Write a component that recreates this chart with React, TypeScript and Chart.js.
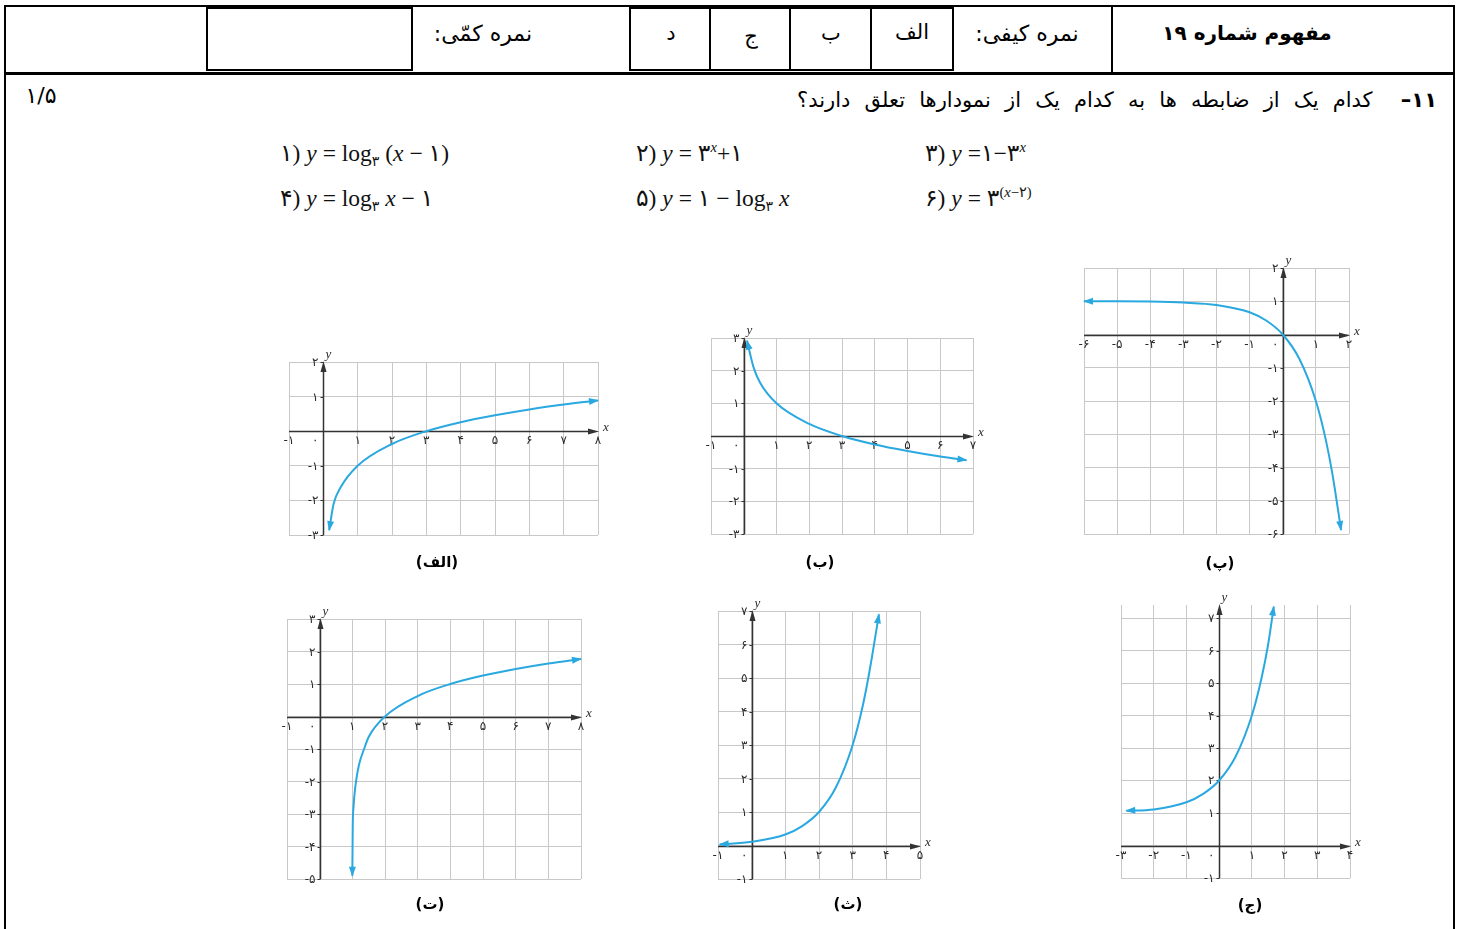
import React, { useEffect, useRef } from 'react';
import { Chart, registerables } from 'chart.js';

Chart.register(...registerables);

// ---------------- data ----------------
// graph (الف)
const alefX = [0.17, 0.3, 0.5, 1, 2, 3, 4, 5, 6, 7, 8];
const alefY = [-2.86, -2.1, -1.63, -1, -0.37, 0, 0.26, 0.46, 0.63, 0.77, 0.89];
// graph (ب)
const beX = [0.1, 0.3, 0.5, 1, 2, 3, 4, 5, 6, 6.8];
const beY = [2.92, 2.1, 1.63, 1, 0.37, 0, -0.26, -0.46, -0.63, -0.74];
// graph (پ)
const peX = [-6, -5, -4, -3, -2, -1, -0.5, 0, 0.5, 1, 1.3, 1.5, 1.76];
const peY = [1, 1, 0.99, 0.96, 0.89, 0.67, 0.42, 0, -0.73, -2, -3.17, -4.2, -5.88];
// graph (ت)
const teX = [1.0, 1.012, 1.035, 1.1, 1.2, 1.36, 1.5, 2, 3, 4, 5, 6, 7, 8];
const teY = [-4.9, -3.4, -2.8, -2.1, -1.5, -1, -0.63, 0, 0.63, 1, 1.26, 1.46, 1.63, 1.77];
// graph (ث)
const seX = [-0.95, 0, 1, 1.5, 2, 2.5, 3, 3.3, 3.5, 3.78];
const seY = [0.03, 0.11, 0.33, 0.58, 1, 1.73, 3, 4.17, 5.2, 6.9];
// graph (ج)
const jimX = [-2.84, -2, -1, -0.5, 0, 0.5, 1, 1.3, 1.5, 1.67];
const jimY = [1.07, 1.11, 1.33, 1.58, 2, 2.73, 4, 5.17, 6.2, 7.35];

// axis ranges
const alefRange = [-1, 8, -3, 2];
const beRange = [-1, 7, -3, 3];
const peRange = [-6, 2, -6, 2];
const teRange = [-1, 8, -5, 3];
const seRange = [-1, 5, -1, 7];
const jimRange = [-3, 4, -1, 7.4];

const captions = ['(الف)', '(ب)', '(پ)', '(ت)', '(ث)', '(ج)'];

const formulasTop = ['۱)', '۲)', '۳)'];
const formulasBottom = ['۴)', '۵)', '۶)'];

// ---------------- styles ----------------
const CURVE = '#2aa8e0';
const GRID = '#c8c8c8';
const AXIS = '#333333';
const FA = '"DejaVu Sans", sans-serif';
const MATH = '"Liberation Serif", "DejaVu Sans", serif';
const PAD = 24;

const faDigits = '۰۱۲۳۴۵۶۷۸۹';
const fa = (n: number) => {
  const s = String(Math.abs(n)).replace(/\d/g, (d) => faDigits[+d]);
  return n < 0 ? '-' + s : s;
};

// keep one tick per whole unit inside the scale's range
const intOnly = (scale: any) => {
  const lo = Math.ceil(scale.min - 1e-9);
  const hi = Math.floor(scale.max + 1e-9);
  const out: any[] = [];
  for (let v = lo; v <= hi; v++) out.push({ value: v });
  scale.ticks = out;
};

const decorPlugin = {
  id: 'decor',
  beforeDatasetsDraw(chart: any) {
    const { ctx, chartArea: a } = chart;
    const xs = chart.scales.x;
    const ys = chart.scales.y;
    const x0 = Math.round(xs.getPixelForValue(0)) + 0.5;
    const y0 = Math.round(ys.getPixelForValue(0)) + 0.5;
    ctx.save();
    ctx.strokeStyle = AXIS;
    ctx.fillStyle = AXIS;
    ctx.lineWidth = 1.5;
    // x axis
    ctx.beginPath();
    ctx.moveTo(a.left, y0);
    ctx.lineTo(a.right - 6, y0);
    ctx.stroke();
    ctx.beginPath();
    ctx.moveTo(a.right + 1, y0);
    ctx.lineTo(a.right - 10, y0 - 3);
    ctx.lineTo(a.right - 10, y0 + 3);
    ctx.closePath();
    ctx.fill();
    // y axis
    ctx.beginPath();
    ctx.moveTo(x0, a.bottom);
    ctx.lineTo(x0, a.top + 6);
    ctx.stroke();
    ctx.beginPath();
    ctx.moveTo(x0, a.top - 1);
    ctx.lineTo(x0 - 3, a.top + 10);
    ctx.lineTo(x0 + 3, a.top + 10);
    ctx.closePath();
    ctx.fill();
    // labels
    ctx.font = `12px ${FA}`;
    ctx.fillStyle = '#2a2a2a';
    ctx.textAlign = 'center';
    ctx.textBaseline = 'top';
    xs.ticks.forEach((t: any) => {
      if (t.value === 0) return;
      const px = xs.getPixelForValue(t.value);
      ctx.fillText(fa(t.value), px, y0 + 3);
    });
    ctx.textAlign = 'right';
    ctx.textBaseline = 'middle';
    ctx.lineWidth = 1;
    ys.ticks.forEach((t: any) => {
      if (t.value === 0) return;
      const py = Math.round(ys.getPixelForValue(t.value)) + 0.5;
      ctx.fillText(fa(t.value), x0 - 5, py);
      ctx.beginPath();
      ctx.moveTo(x0 - 3, py);
      ctx.lineTo(x0, py);
      ctx.stroke();
    });
    ctx.textAlign = 'right';
    ctx.textBaseline = 'top';
    ctx.fillText('۰', x0 - 5, y0 + 3);
    // axis letters
    ctx.font = `italic 13px ${MATH}`;
    ctx.textAlign = 'left';
    ctx.textBaseline = 'middle';
    ctx.fillText('x', a.right + 5, y0 - 4);
    ctx.textBaseline = 'bottom';
    ctx.fillText('y', x0 + 2, a.top - 1);
    ctx.restore();
  },
  afterDatasetsDraw(chart: any) {
    const { ctx } = chart;
    const pts = chart.getDatasetMeta(0).data;
    if (!pts || pts.length < 2) return;
    const head = (tx: number, ty: number, fx: number, fy: number) => {
      let dx = tx - fx;
      let dy = ty - fy;
      const len = Math.hypot(dx, dy) || 1;
      dx /= len;
      dy /= len;
      const L = 9;
      const W = 3.5;
      const bx = tx - dx * L;
      const by = ty - dy * L;
      ctx.beginPath();
      ctx.moveTo(tx + dx * 1, ty + dy * 1);
      ctx.lineTo(bx - dy * W, by + dx * W);
      ctx.lineTo(bx + dy * W, by - dx * W);
      ctx.closePath();
      ctx.fill();
    };
    ctx.save();
    ctx.fillStyle = CURVE;
    const f = pts[0];
    const s = pts[1];
    let fx = f.cp2x;
    let fy = f.cp2y;
    if (fx === undefined || Math.hypot(fx - f.x, fy - f.y) < 0.5) {
      fx = s.x;
      fy = s.y;
    }
    head(f.x, f.y, fx, fy);
    const l = pts[pts.length - 1];
    const p = pts[pts.length - 2];
    let lx = l.cp1x;
    let ly = l.cp1y;
    if (lx === undefined || Math.hypot(lx - l.x, ly - l.y) < 0.5) {
      lx = p.x;
      ly = p.y;
    }
    head(l.x, l.y, lx, ly);
    ctx.restore();
  },
};

type Spec = {
  xs: number[];
  ys: number[];
  range: number[];
  left: number;
  top: number;
  right: number;
  bottom: number;
  caption: string;
  capX: number;
  capY: number;
};

function Graph({ spec }: { spec: Spec }) {
  const ref = useRef<HTMLCanvasElement>(null);
  const w = spec.right - spec.left + PAD * 2;
  const h = spec.bottom - spec.top + PAD * 2;
  useEffect(() => {
    const [xMin, xMax, yMin, yMax] = spec.range;
    const axisOpts = (min: number, max: number) => ({
      type: 'linear' as const,
      min,
      max,
      ticks: { display: false, stepSize: 1 },
      grid: { color: GRID, lineWidth: 1, drawTicks: false },
      border: { display: false },
      afterBuildTicks: intOnly,
    });
    const chart = new Chart(ref.current as HTMLCanvasElement, {
      type: 'line',
      data: {
        datasets: [
          {
            data: spec.xs.map((x, i) => ({ x, y: spec.ys[i] })),
            borderColor: CURVE,
            borderWidth: 2,
            pointRadius: 0,
            fill: false,
            cubicInterpolationMode: 'monotone',
            clip: false as any,
          },
        ],
      },
      options: {
        responsive: false,
        animation: false,
        events: [],
        layout: { padding: PAD },
        plugins: { legend: { display: false }, tooltip: { enabled: false } },
        scales: {
          x: axisOpts(xMin, xMax) as any,
          y: axisOpts(yMin, yMax) as any,
        },
      },
      plugins: [decorPlugin as any],
    });
    return () => chart.destroy();
  }, []);
  return (
    <>
      <canvas
        ref={ref}
        width={w}
        height={h}
        style={{ position: 'absolute', left: spec.left - PAD, top: spec.top - PAD, width: w, height: h }}
      />
      <div
        style={{
          position: 'absolute',
          left: spec.capX,
          top: spec.capY,
          transform: 'translate(-50%, -50%)',
          fontFamily: FA,
          fontWeight: 'bold',
          fontSize: 15,
          direction: 'rtl',
          whiteSpace: 'nowrap',
        }}
      >
        {spec.caption}
      </div>
    </>
  );
}

const specs: Spec[] = [
  { xs: alefX, ys: alefY, range: alefRange, left: 289, top: 362, right: 598, bottom: 535, caption: captions[0], capX: 437, capY: 562 },
  { xs: beX, ys: beY, range: beRange, left: 711, top: 338, right: 973, bottom: 534, caption: captions[1], capX: 820, capY: 562 },
  { xs: peX, ys: peY, range: peRange, left: 1084, top: 268, right: 1349, bottom: 534, caption: captions[2], capX: 1220, capY: 563 },
  { xs: teX, ys: teY, range: teRange, left: 287, top: 619, right: 581, bottom: 879, caption: captions[3], capX: 430, capY: 904 },
  { xs: seX, ys: seY, range: seRange, left: 718, top: 611, right: 920, bottom: 879, caption: captions[4], capX: 848, capY: 904 },
  { xs: jimX, ys: jimY, range: jimRange, left: 1121, top: 605, right: 1350, bottom: 878, caption: captions[5], capX: 1250, capY: 905 },
];

const box = (left: number, top: number, width: number, height: number, bg = '#000'): React.CSSProperties => ({
  position: 'absolute',
  left,
  top,
  width,
  height,
  background: bg,
});

const centered = (x: number, y: number, size: number, bold = false): React.CSSProperties => ({
  position: 'absolute',
  left: x,
  top: y,
  transform: 'translate(-50%, -50%)',
  fontFamily: FA,
  fontSize: size,
  fontWeight: bold ? 'bold' : 'normal',
  direction: 'rtl',
  whiteSpace: 'nowrap',
  color: '#000',
});

const Sub = ({ children }: { children: React.ReactNode }) => (
  <span style={{ fontSize: '0.6em', position: 'relative', top: '0.35em' }}>{children}</span>
);
const Sup = ({ children }: { children: React.ReactNode }) => (
  <span style={{ fontSize: '0.62em', position: 'relative', top: '-0.65em' }}>{children}</span>
);

const formulaStyle = (left: number, y: number): React.CSSProperties => ({
  position: 'absolute',
  left,
  top: y - 15,
  lineHeight: '30px',
  fontFamily: MATH,
  fontSize: 23.5,
  direction: 'ltr',
  whiteSpace: 'nowrap',
  color: '#111',
});

export default function App() {
  return (
    <div
      style={{
        position: 'absolute',
        left: 0,
        top: 0,
        width: 1464,
        height: 929,
        background: '#fff',
        overflow: 'hidden',
      }}
    >
      {/* frame */}
      <div style={box(4, 5, 1451, 2)} />
      <div style={box(4, 5, 2, 924)} />
      <div style={box(1453, 5, 2, 924)} />
      <div style={box(4, 72, 1451, 3)} />
      <div style={box(1111, 6, 1.5, 67)} />
      {/* grade boxes */}
      <div style={{ position: 'absolute', left: 629, top: 7, width: 325, height: 64, border: '2px solid #000', boxSizing: 'border-box' }} />
      <div style={box(709, 7, 1.5, 64)} />
      <div style={box(789, 7, 1.5, 64)} />
      <div style={box(870, 7, 1.5, 64)} />
      <div style={{ position: 'absolute', left: 206, top: 7, width: 207, height: 64, border: '2px solid #000', boxSizing: 'border-box' }} />
      {/* header texts */}
      <div style={centered(1247, 33, 20, true)}>مفهوم شماره ۱۹</div>
      <div style={centered(1027, 33, 22)}>نمره کیفی:</div>
      <div style={centered(912, 32, 21)}>الف</div>
      <div style={centered(831, 33, 21)}>ب</div>
      <div style={centered(751, 36, 21)}>ج</div>
      <div style={centered(671, 33, 21)}>د</div>
      <div style={centered(483, 33, 22)}>نمره کمّی:</div>
      {/* question line */}
      <div
        style={{
          position: 'absolute',
          right: 1464 - 1437,
          top: 100,
          transform: 'translateY(-50%)',
          fontFamily: FA,
          fontSize: 21,
          wordSpacing: 7.5,
          direction: 'rtl',
          whiteSpace: 'nowrap',
        }}
      >
        <span style={{ fontWeight: 'bold' }}>۱۱–</span>&nbsp; کدام یک از ضابطه ها به کدام یک از نمودارها تعلق دارند؟
      </div>
      <div style={{ ...centered(41, 95, 22), direction: 'ltr' }}>۱/۵</div>
      {/* formulas */}
      <div style={formulaStyle(280, 153)}>
        {formulasTop[0]} <i>y</i> = log<Sub>۳</Sub> (<i>x</i> − ۱)
      </div>
      <div style={formulaStyle(636, 153)}>
        {formulasTop[1]} <i>y</i> = ۳<Sup><i>x</i></Sup>+۱
      </div>
      <div style={formulaStyle(925, 153)}>
        {formulasTop[2]} <i>y</i> =۱−۳<Sup><i>x</i></Sup>
      </div>
      <div style={formulaStyle(280, 198)}>
        {formulasBottom[0]} <i>y</i> = log<Sub>۳</Sub> <i>x</i> − ۱
      </div>
      <div style={formulaStyle(636, 198)}>
        {formulasBottom[1]} <i>y</i> = ۱ − log<Sub>۳</Sub> <i>x</i>
      </div>
      <div style={formulaStyle(925, 198)}>
        {formulasBottom[2]} <i>y</i> = ۳<Sup>(<i>x</i>−۲)</Sup>
      </div>
      {/* graphs */}
      {specs.map((s, i) => (
        <Graph key={i} spec={s} />
      ))}
    </div>
  );
}
